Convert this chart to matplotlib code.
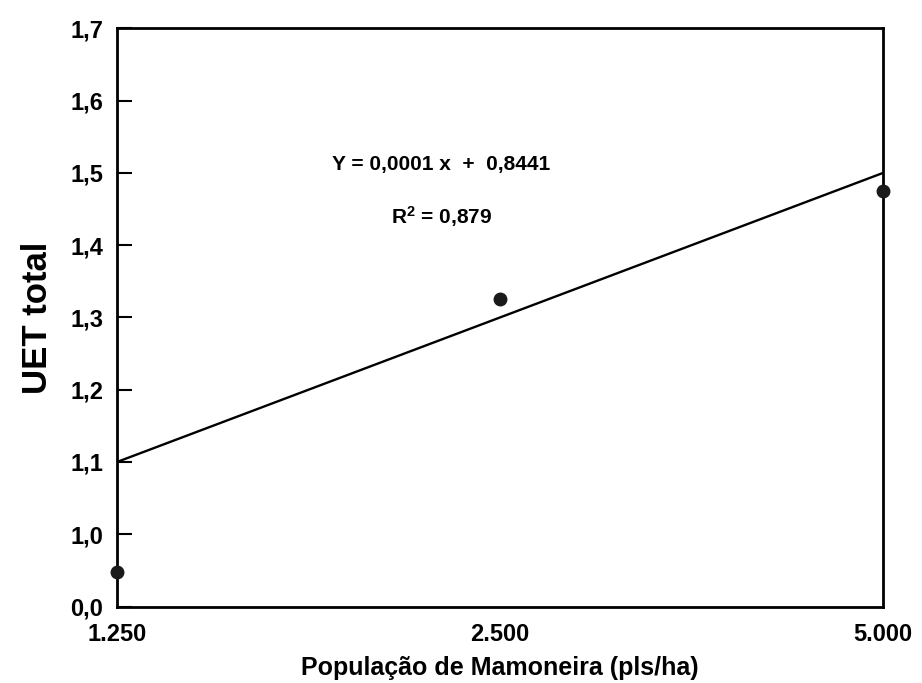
import matplotlib
matplotlib.use("Agg")
import matplotlib.pyplot as plt

# Plant population treatments (categorical positions on the x axis)
populacao = ["1.250", "2.500", "5.000"]
# Observed total LER (UET) per population
uet_obs = [0.948, 1.325, 1.475]
# Fitted line drawn across the population range
reta_x = [0, 2]
reta_y = [1.10, 1.50]

# Y axis: broken scale, bottom tick stands for 0,0
ytick_vals = [0.9, 1.0, 1.1, 1.2, 1.3, 1.4, 1.5, 1.6, 1.7]
ytick_labels = ["0,0", "1,0", "1,1", "1,2", "1,3", "1,4", "1,5", "1,6", "1,7"]

equacao = "Y = 0,0001 x  +  0,8441"
r2 = r"R$^{2}$ = 0,879"

plt.rcParams["font.family"] = ["Liberation Sans", "DejaVu Sans"]
plt.rcParams["font.weight"] = "bold"
plt.rcParams["mathtext.fontset"] = "custom"
plt.rcParams["mathtext.rm"] = "Liberation Sans:bold"
plt.rcParams["mathtext.it"] = "Liberation Sans:bold"
plt.rcParams["mathtext.bf"] = "Liberation Sans:bold"

fig = plt.figure(figsize=(9.22, 6.83), dpi=100)
ax = fig.add_axes([0.127, 0.112, 0.831, 0.8466])

xpos = list(range(len(populacao)))
ax.plot(reta_x, reta_y, color="black", lw=1.7, zorder=2)
ax.plot(xpos, uet_obs, "o", color="#1a1a1a", ms=9, clip_on=False, zorder=3)

ax.set_xlim(0, 2)
ax.set_ylim(0.9, 1.7)
ax.set_xticks(xpos)
ax.set_xticklabels(populacao, fontsize=17, fontweight="bold")
ax.set_yticks(ytick_vals)
ax.set_yticklabels(ytick_labels, fontsize=17, fontweight="bold")
ax.tick_params(axis="y", direction="in", length=11, width=1.5, pad=10)
ax.tick_params(axis="x", length=0, pad=12)

for s in ax.spines.values():
    s.set_linewidth(2)

ax.set_xlabel("População de Mamoneira (pls/ha)", fontsize=18, fontweight="bold", labelpad=7)
ax.set_ylabel("UET total", fontsize=25, fontweight="bold", labelpad=12)

ax.text(0.846, 1.512, equacao, fontsize=15, fontweight="bold", ha="center", va="center")
ax.text(0.846, 1.440, r2, fontsize=15, fontweight="bold", ha="center", va="center")

fig.savefig("out.png", dpi=100)
